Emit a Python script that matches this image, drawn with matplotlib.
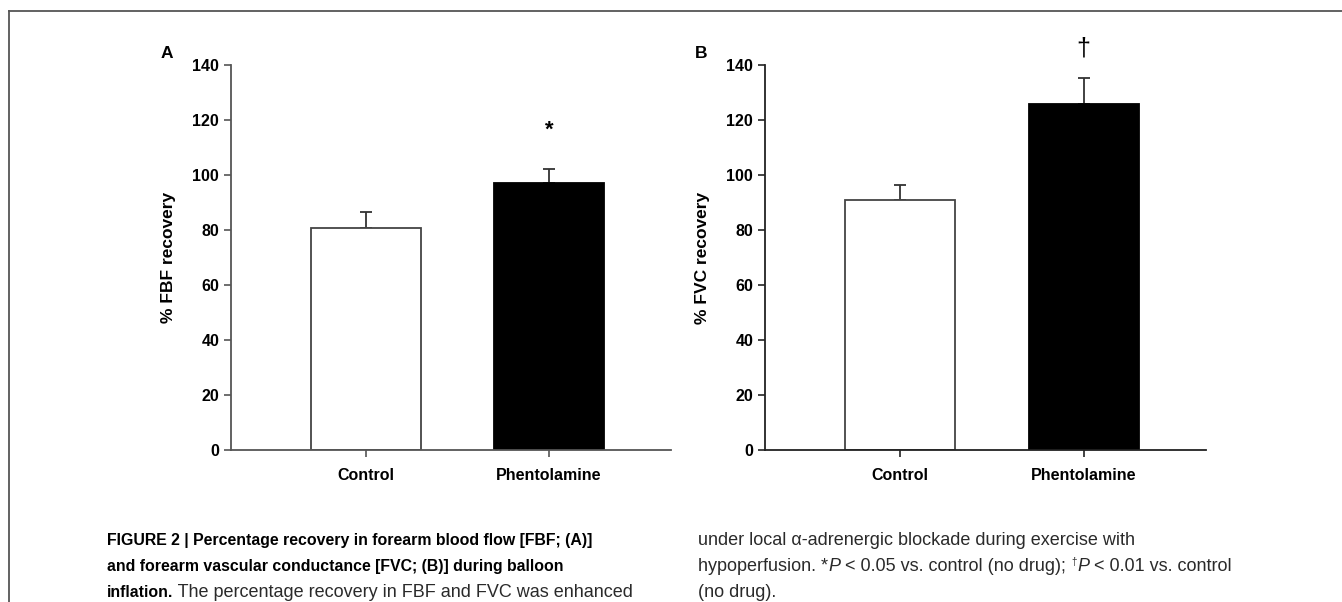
import numpy as np
import matplotlib
matplotlib.use("Agg")
import matplotlib.pyplot as plt
from matplotlib.lines import Line2D

plt.rcParams['font.family'] = ['Liberation Sans', 'DejaVu Sans']
CAP_FONT = ['Liberation Sans', 'DejaVu Sans']

groups = ["Control", "Phentolamine"]
fbf_mean = [80.6, 97.1]
fbf_err = [5.8, 5.2]
fvc_mean = [90.9, 125.8]
fvc_err = [5.3, 9.5]
yticks = [0, 20, 40, 60, 80, 100, 120, 140]
marks_a = ["", "*"]
marks_b = ["", "\u2020"]

fig = plt.figure(figsize=(13.42, 6.02), dpi=100)
W, H = 1342, 602

def px_axes(x0, x1, ytop, ybot):
    return fig.add_axes([x0 / W, 1 - ybot / H, (x1 - x0) / W, (ybot - ytop) / H])

ax_a = px_axes(231, 671, 65, 450)
ax_b = px_axes(765, 1206, 65, 450)

def draw_panel(ax, means, errs, marks, ylabel, letter, mark_y, mark_size, axcol):
    x = np.arange(len(groups))
    ax.bar(x, means, width=0.6, color=['white', 'black'],
           edgecolor=['#444444', 'black'], linewidth=1.3, zorder=2)
    ax.errorbar(x, means, yerr=[np.zeros(len(errs)), errs], fmt='none',
                ecolor='#333333', elinewidth=1.3, capsize=4.3, capthick=1.3, zorder=1)
    for xi, m, my in zip(x, marks, mark_y):
        if m:
            ax.text(xi, my, m, ha='center', va='center', fontsize=mark_size,
                    fontweight='bold' if m == '*' else 'normal', clip_on=False)
    ax.set_xlim(-0.738, 1.667)
    ax.set_ylim(0, 140)
    ax.set_yticks(yticks)
    ax.set_xticks(x)
    ax.set_xticklabels(groups, fontsize=11.5, fontweight='bold')
    for lab in ax.get_yticklabels():
        lab.set_fontsize(11.5)
        lab.set_fontweight('bold')
    ax.tick_params(axis='both', direction='out', length=5, width=1.2, colors=axcol,
                   labelcolor='black')
    ax.tick_params(axis='x', pad=8)
    for s in ['top', 'right']:
        ax.spines[s].set_visible(False)
    for s in ['left', 'bottom']:
        ax.spines[s].set_color(axcol)
        ax.spines[s].set_linewidth(1.3)
    ax.set_ylabel(ylabel, fontsize=12.5, fontweight='bold', labelpad=12)
    ax.text(-0.145, 1.03, letter, transform=ax.transAxes, fontsize=12.5,
            fontweight='bold', ha='center', va='center')

draw_panel(ax_a, fbf_mean, fbf_err, marks_a, "% FBF recovery", "A",
           [0, 116.3], 16, '#555555')
draw_panel(ax_b, fvc_mean, fvc_err, marks_b, "% FVC recovery", "B",
           [0, 146.0], 18, '#222222')

# page frame
fig.add_artist(Line2D([9 / W, 1], [1 - 11 / H, 1 - 11 / H], color='#555555', lw=1.3))
fig.add_artist(Line2D([9 / W, 9 / W], [0, 1 - 11 / H], color='#555555', lw=1.3))

# caption (mixed styles, placed piece by piece)
fig.canvas.draw()
renderer = fig.canvas.get_renderer()

def write_line(x, y, pieces):
    t = None
    for txt, weight, style in pieces:
        size = 11.4 if weight == 'bold' else 13.0
        t = fig.text(x / W, 1 - y / H, txt, fontsize=size, fontweight=weight,
                     fontstyle=style, family=CAP_FONT, va='baseline',
                     color='black' if weight == 'bold' else '#2a2a2a')
        bb = t.get_window_extent(renderer=renderer)
        x = bb.x1
    return x

write_line(107, 545, [("FIGURE 2 | Percentage recovery in forearm blood flow [FBF; (A)]", 'bold', 'normal')])
write_line(107, 571, [("and forearm vascular conductance [FVC; (B)] during balloon", 'bold', 'normal')])
write_line(107, 597, [("inflation.", 'bold', 'normal'),
                      (" The percentage recovery in FBF and FVC was enhanced", 'normal', 'normal')])
write_line(698, 545, [("under local \u03b1-adrenergic blockade during exercise with", 'normal', 'normal')])
xe = write_line(698, 571, [("hypoperfusion. *", 'normal', 'normal'), ("P", 'normal', 'italic'),
                           (" < 0.05 vs. control (no drug); ", 'normal', 'normal')])
t = fig.text(xe / W, 1 - 565 / H, "\u2020", fontsize=7, family=CAP_FONT,
             va='baseline', color='#2a2a2a')
bb = t.get_window_extent(renderer=renderer)
write_line(bb.x1 + 1, 571, [("P", 'normal', 'italic'), (" < 0.01 vs. control", 'normal', 'normal')])
write_line(698, 597, [("(no drug).", 'normal', 'normal')])

fig.savefig("out.png", dpi=100)
